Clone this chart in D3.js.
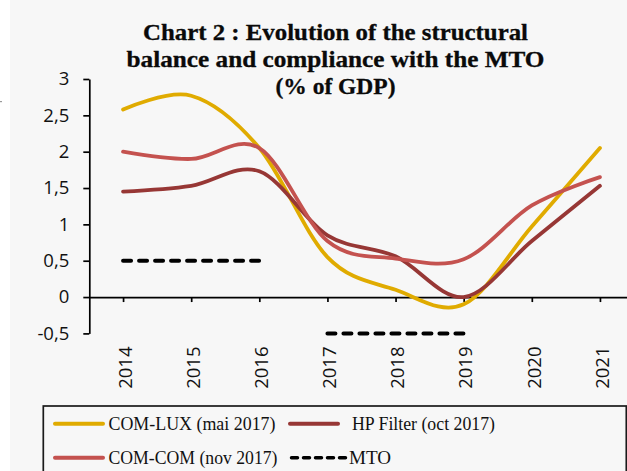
<!DOCTYPE html>
<html>
<head>
<meta charset="utf-8">
<script src="https://cdn.jsdelivr.net/npm/d3@7"></script>
<style>
  html, body { margin: 0; padding: 0; background: #ffffff; }
  svg { display: block; }
</style>
</head>
<body>
<svg id="chart" width="627" height="471"></svg>
<script>
// ---- DATA ----
const years = ["2014", "2015", "2016", "2017", "2018", "2019", "2020", "2021"];
const comLux = [2.58, 2.77, 2.05, 0.55, 0.1, -0.1, 0.97, 2.05];
const hpFilter = [1.45, 1.53, 1.73, 0.85, 0.56, 0.0, 0.77, 1.53];
const comCom = [2.0, 1.9, 2.05, 0.77, 0.53, 0.52, 1.26, 1.65];
const mtoFirst = [0.5, 0.5, 0.5, null, null, null, null, null];
const mtoSecond = [null, null, null, -0.5, -0.5, -0.5, null, null];
const yTickValues = [-0.5, 0, 0.5, 1, 1.5, 2, 2.5, 3];
const yTickLabels = ["-0,5", "0", "0,5", "1", "1,5", "2", "2,5", "3"];
const titleLines = ["Chart 2 : Evolution of the structural", "balance and compliance with the MTO", "(% of GDP)"];
const legendLabels = ["COM-LUX (mai 2017)", "HP Filter (oct 2017)", "COM-COM (nov 2017)", "MTO"];

// ---- STYLE ----
const colors = { lux: "#e0ab00", hp: "#973735", com: "#c4524f", mto: "#000000" };

const svg = d3.select("#chart");

// backgrounds
svg.append("rect").attr("x", 0).attr("y", 0).attr("width", 627).attr("height", 471).attr("fill", "#ffffff");
svg.append("rect").attr("x", 10).attr("y", 0).attr("width", 617).attr("height", 471).attr("fill", "#f7f7f7");
svg.append("rect").attr("x", 0).attr("y", 101).attr("width", 2).attr("height", 1.2).attr("fill", "#9a9a9a");

// scales
const x = d3.scalePoint().domain(years).range([89, 634]).padding(0.5);
const y = d3.scaleLinear().domain([-0.5, 3]).range([333.4, 79]);

// title
const titleG = svg.append("g");
const titleBase = [40, 67, 94];
const titleWidths = [385, 418, 120];
titleLines.forEach((t, i) => {
  titleG.append("text")
    .attr("x", 335.5).attr("y", titleBase[i])
    .attr("text-anchor", "middle")
    .attr("font-family", "'Liberation Serif', 'Times New Roman', serif")
    .attr("font-weight", "bold")
    .attr("font-size", 22.5)
    .attr("fill", "#0a0a0a")
    .attr("stroke", "#0a0a0a").attr("stroke-width", 0.3)
    .attr("textLength", titleWidths[i])
    .attr("lengthAdjust", "spacingAndGlyphs")
    .text(t);
});

// y axis
const yAxis = d3.axisLeft(y)
  .tickValues(yTickValues)
  .tickFormat((d, i) => yTickLabels[i])
  .tickSizeInner(6).tickSizeOuter(0).tickPadding(14);
const yg = svg.append("g").attr("transform", "translate(89.3,0)").call(yAxis);
yg.select(".domain").attr("stroke", "#000").attr("stroke-width", 1.7);
yg.selectAll(".tick line").attr("stroke", "#000").attr("stroke-width", 1.7);
yg.selectAll(".tick text")
  .attr("font-family", "'Open Sans', 'Noto Sans', sans-serif")
  .attr("font-size", 18.5).attr("fill", "#111");

// x axis
const xAxis = d3.axisBottom(x).tickSizeInner(5).tickSizeOuter(0).tickFormat("");
const xg = svg.append("g").attr("transform", `translate(0,${y(0)})`).call(xAxis);
xg.select(".domain").attr("stroke", "#000").attr("stroke-width", 1.7);
xg.selectAll(".tick line").attr("stroke", "#000").attr("stroke-width", 1.7);
xg.selectAll(".tick text").remove();

// rotated x labels
svg.append("g").selectAll("text").data(years).join("text")
  .attr("transform", d => `translate(${x(d) + 8.8},346.5) rotate(-90)`)
  .attr("text-anchor", "end")
  .attr("font-family", "'Open Sans', 'Noto Sans', sans-serif")
  .attr("font-size", 18.5).attr("fill", "#111")
  .text(d => d);

// lines
const lineGen = d3.line()
  .defined(d => d.v !== null)
  .x(d => x(d.year))
  .y(d => y(d.v))
  .curve(d3.curveCatmullRom.alpha(0));
const toPts = arr => years.map((yr, i) => ({ year: yr, v: arr[i] }));

const mtoLine = d3.line().defined(d => d.v !== null).x(d => x(d.year)).y(d => y(d.v));
[mtoFirst, mtoSecond].forEach(arr => {
  svg.append("path").datum(toPts(arr))
    .attr("d", mtoLine)
    .attr("fill", "none")
    .attr("stroke", colors.mto)
    .attr("stroke-width", 4)
    .attr("stroke-linecap", "round")
    .attr("stroke-dasharray", "8,8");
});

const series = [
  { vals: comLux, color: colors.lux },
  { vals: hpFilter, color: colors.hp },
  { vals: comCom, color: colors.com }
];
series.forEach(s => {
  svg.append("path").datum(toPts(s.vals))
    .attr("d", lineGen)
    .attr("fill", "none")
    .attr("stroke", s.color)
    .attr("stroke-width", 3.8)
    .attr("stroke-linecap", "round")
    .attr("stroke-linejoin", "round");
});

// legend
const lg = svg.append("g");
lg.append("rect").attr("x", 43.3).attr("y", 406).attr("width", 583).attr("height", 80)
  .attr("fill", "none").attr("stroke", "#1a1a1a").attr("stroke-width", 1.7);
const legendItems = [
  { label: legendLabels[0], color: colors.lux, dash: null, lx: 55, tx: 108.5, ly: 423.7, ty: 429.8, w: 167 },
  { label: legendLabels[1], color: colors.hp, dash: null, lx: 290, tx: 352, ly: 423.7, ty: 429.8, w: 143 },
  { label: legendLabels[2], color: colors.com, dash: null, lx: 55, tx: 108.5, ly: 457.7, ty: 464.2, w: 169 },
  { label: legendLabels[3], color: colors.mto, dash: "6,6", lx: 290, tx: 349, ly: 457.7, ty: 464.2, w: 42 }
];
legendItems.forEach(it => {
  lg.append("line")
    .attr("x1", it.dash ? it.lx + 1.5 : it.lx).attr("x2", it.dash ? it.lx + 55.5 : it.lx + 48)
    .attr("y1", it.ly).attr("y2", it.ly)
    .attr("stroke", it.color)
    .attr("stroke-width", it.dash ? 3.5 : 4)
    .attr("stroke-linecap", "round")
    .attr("stroke-dasharray", it.dash);
  lg.append("text")
    .attr("x", it.tx).attr("y", it.ty)
    .attr("font-family", "'Liberation Serif', 'Times New Roman', serif")
    .attr("font-size", 19.5).attr("fill", "#111")
    .attr("textLength", it.w)
    .attr("lengthAdjust", "spacingAndGlyphs")
    .text(it.label);
});
</script>
</body>
</html>
